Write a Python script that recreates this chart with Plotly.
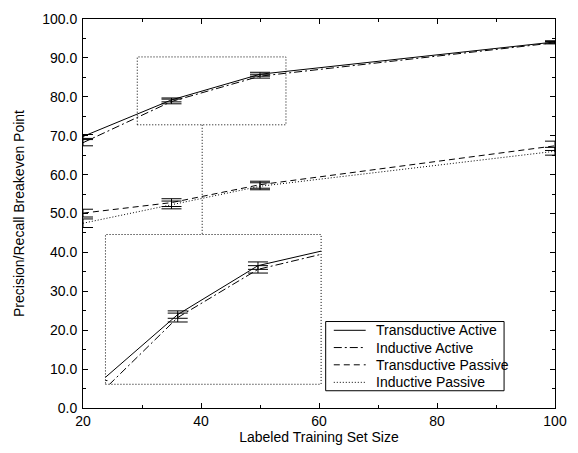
import plotly.graph_objects as go

sizes = [20, 35, 50, 100]
trans_active = [69.8, 79.2, 85.8, 94.1]
trans_active_err = [0.5, 0.5, 0.5, 0.3]
ind_active = [68.2, 78.8, 85.3, 93.9]
ind_active_err = [0.8, 0.6, 0.5, 0.3]
trans_passive = [50.1, 52.8, 57.4, 67.4]
trans_passive_err = [1.0, 1.0, 0.9, 1.2]
ind_passive = [47.5, 52.2, 57.0, 66.0]
ind_passive_err = [1.1, 1.0, 0.9, 1.0]

names = ["Transductive Active", "Inductive Active", "Transductive Passive", "Inductive Passive"]
dashes = ["solid", "8px,3px,2px,3px", "6px,4px", "1px,2px"]
series = [(trans_active, trans_active_err), (ind_active, ind_active_err),
          (trans_passive, trans_passive_err), (ind_passive, ind_passive_err)]

# zoom box (main data coords) and inset ranges
zoom_x = [29.2, 54.4]
zoom_y = [72.8, 90.25]
inset_x = [21.5, 61.8]
inset_y = [69.8, 90.0]
connector_x = 40.2
inset_top_y = 44.6

FONT = "Liberation Sans, Arial, Helvetica, sans-serif"
FS = 14
fig = go.Figure()

for (vals, err), name, dash in zip(series, names, dashes):
    fig.add_trace(go.Scatter(
        x=sizes, y=vals, name=name, mode="lines", showlegend=False,
        line=dict(color="black", width=1, dash=dash),
        error_y=dict(type="data", array=err, visible=True, color="black", thickness=1, width=10),
        xaxis="x", yaxis="y"))

for (vals, err), name, dash in list(zip(series, names, dashes))[:2]:
    fig.add_trace(go.Scatter(
        x=sizes, y=vals, name=name, mode="lines", showlegend=False,
        line=dict(color="black", width=1, dash=dash),
        error_y=dict(type="data", array=err, visible=True, color="black", thickness=1, width=10),
        xaxis="x2", yaxis="y2"))

axis_common = dict(showline=True, linecolor="black", linewidth=1, mirror="ticks",
                   ticks="inside", ticklen=5, tickcolor="black", showgrid=False,
                   zeroline=False, tickfont=dict(size=FS, color="black", family=FONT))

fig.update_layout(
    width=578, height=453,
    margin=dict(l=83, r=11, t=13, b=41),
    paper_bgcolor="white", plot_bgcolor="white",
    font=dict(family=FONT, size=FS, color="black"),
    showlegend=False,
    xaxis=dict(range=[20, 100], dtick=20, tick0=20,
               minor=dict(dtick=10, ticks="inside", ticklen=3, tickcolor="black"),
               title=dict(text="Labeled Training Set Size", font=dict(size=FS), standoff=3),
               **axis_common),
    yaxis=dict(range=[0, 100], dtick=10, tickformat=".1f", ticklabelstandoff=2,
               minor=dict(dtick=5, ticks="inside", ticklen=3, tickcolor="black"),
               title=dict(text="Precision/Recall Breakeven Point", font=dict(size=FS), standoff=14),
               **axis_common),
    xaxis2=dict(domain=[0.0476, 0.5045], anchor="y2", range=inset_x,
                showticklabels=False, ticks="", showgrid=False, zeroline=False, showline=False),
    yaxis2=dict(domain=[0.061, 0.446], anchor="x2", range=inset_y,
                showticklabels=False, ticks="", showgrid=False, zeroline=False, showline=False),
)

dot = dict(color="black", width=1, dash="1px,2px")
fig.add_shape(type="rect", xref="x", yref="y", x0=zoom_x[0], x1=zoom_x[1],
              y0=zoom_y[0], y1=zoom_y[1], line=dot, layer="above")
fig.add_shape(type="line", xref="x", yref="y", x0=connector_x, x1=connector_x,
              y0=zoom_y[0], y1=inset_top_y, line=dot, layer="above")
fig.add_shape(type="rect", xref="x2 domain", yref="y2 domain", x0=0, x1=1, y0=0, y1=1,
              line=dot, layer="above")

# legend box (drawn manually for compact spacing), plot-area fractions
PW, PH, L, T_BOTTOM = 483.7, 399.0, 83.0, 412.0
px = lambda v: (v - L) / PW
py = lambda v: (T_BOTTOM - v) / PH
fig.add_shape(type="rect", xref="paper", yref="paper", x0=px(331.7), x1=px(514.5),
              y0=py(394.3), y1=py(323.3), line=dict(color="black", width=1),
              fillcolor="white", layer="above")
row_y = [332.3, 350.0, 367.7, 385.7]
for name, dash, ry in zip(names, dashes, row_y):
    fig.add_shape(type="line", xref="paper", yref="paper", x0=px(340), x1=px(372.7),
                  y0=py(ry), y1=py(ry), line=dict(color="black", width=1, dash=dash),
                  layer="above")
    fig.add_annotation(xref="paper", yref="paper", x=px(381.5), y=py(ry), text=name,
                       showarrow=False, xanchor="left", yanchor="middle",
                       font=dict(size=FS, color="black", family=FONT))

fig.write_html("out.html")
